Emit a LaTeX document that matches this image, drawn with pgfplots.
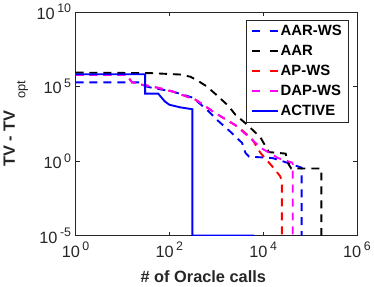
\documentclass[border=0pt]{standalone}
\usepackage{pgfplots}
\pgfplotsset{compat=1.18}
\usepackage{fontspec}
\setmainfont{Liberation Sans}
\definecolor{axgray}{rgb}{0.15,0.15,0.15}
\definecolor{mblue}{rgb}{0,0,1}
\definecolor{mred}{rgb}{1,0,0}
\definecolor{mmag}{rgb}{1,0,1}
\newcommand{\ee}[1]{10\hspace{2.5bp}\raisebox{6.5bp}{\fontsize{12.5}{12.5}\selectfont #1}}
\begin{document}
\begin{tikzpicture}
\begin{axis}[
  scale only axis, width=283bp, height=225bp,
  xmode=log, ymode=log,
  xmin=1, xmax=1e6, ymin=1e-5, ymax=1e10,
  xtick={1,100,1e4,1e6}, ytick={1e-5,1,1e5,1e10},
  xticklabels={\ee{0},\ee{2},\ee{4},\ee{6}},
  yticklabels={\ee{-5},\ee{0},\ee{5},\ee{10}},
  xminorticks=false, yminorticks=false,
  axis line style={axgray, line width=0.6bp},
  tick style={axgray, line width=0.6bp},
  major tick length=4bp,
  tick label style={font=\fontsize{16.5}{16.5}\selectfont, text=axgray},
  xticklabel style={yshift=-3bp},
  yticklabel style={xshift=-1bp},
  xlabel={\textbf{\# of Oracle calls}},
  xlabel style={at={(axis description cs:0.454,-0.209)}, anchor=base, font=\fontsize{16.5}{16.5}\selectfont, text=axgray},
  ylabel={\textbf{TV - TV}\hspace{12bp}\raisebox{-10.5bp}{\fontsize{13}{13}\selectfont opt}},
  ylabel style={at={(axis description cs:-0.2155,0.5)}, anchor=base, font=\fontsize{16.5}{16.5}\selectfont, text=axgray},
  legend style={at={(0.972,0.964)}, anchor=north east, draw=axgray, line width=0.6bp,
    font=\bfseries\fontsize{15}{15}\selectfont, text=black, inner xsep=5bp, inner ysep=3bp, row sep=4.3bp,
    /tikz/every even column/.append style={column sep=2bp}},
  legend cell align=left,
  every axis plot/.append style={line width=1.9bp},
]
\pgfplotsset{
  dashleg/.style={legend image code/.code={\draw[##1, dash pattern=on 8bp off 10bp] (0bp,0bp) -- (26bp,0bp);}},
  solidleg/.style={legend image code/.code={\draw[##1] (0bp,0bp) -- (26bp,0bp);}},
}
\addplot[mblue, dash pattern=on 8bp off 6bp, dashleg] coordinates {
(1,1.9e5) (23,1.9e5) (28,1.12e5) (44,7.9e4) (115,4.7e4) (316,1.78e4) (631,2.8e3) (1120,468) (2000,93) (3550,16.6) (4170,3.63) (5010,2.0) (12600,1.66) (16000,1.58) (35500,0.71) (66100,0.36) (66100,1e-5)};
\addlegendentry{AAR-WS}
\addplot[black, dash pattern=on 8bp off 6bp, dashleg] coordinates {
(1,8.5e5) (40,7.9e5) (178,6.3e5) (282,4.5e5) (427,2.2e5) (631,1e5) (955,3.2e4) (1820,5e3) (2570,1260) (3980,398) (5250,178) (8710,40) (11200,10) (13200,4) (30200,3.16) (34700,0.63) (39800,0.316) (174000,0.316) (174000,1e-5)};
\addlegendentry{AAR}
\addplot[mred, dash pattern=on 8bp off 6bp, dashleg] coordinates {
(1,5.9e5) (12.3,5.9e5) (15.8,2e5) (23,1.4e5) (44,1e5) (115,4.7e4) (363,1.3e4) (955,1660) (2570,251) (3160,158) (5750,31.6) (8710,3.63) (15100,0.5) (22900,0.1) (25100,0.05) (25100,1e-5)};
\addlegendentry{AP-WS}
\addplot[mmag, dash pattern=on 8bp off 6bp, dashleg] coordinates {
(1,5.9e5) (12.3,5.9e5) (15.8,2e5) (23,1.4e5) (44,1e5) (115,4.7e4) (363,1.3e4) (955,1660) (2570,251) (5010,40) (9330,7.1) (20900,1.58) (41700,0.78) (42700,0.63) (42700,1e-5)};
\addlegendentry{DAP-WS}
\addplot[mblue, solidleg] coordinates {
(1,6.6e5) (30.5,6.6e5) (30.5,3.3e4) (58,3.3e4) (80,1e4) (100,6e3) (170,4e3) (310,3e3) (310,1e-5) (6500,1e-5)};
\addlegendentry{ACTIVE}
\end{axis}
\path ([shift={(-76bp,-51bp)}]current axis.south west) rectangle ++(374bp,288bp);
\end{tikzpicture}
\end{document}
